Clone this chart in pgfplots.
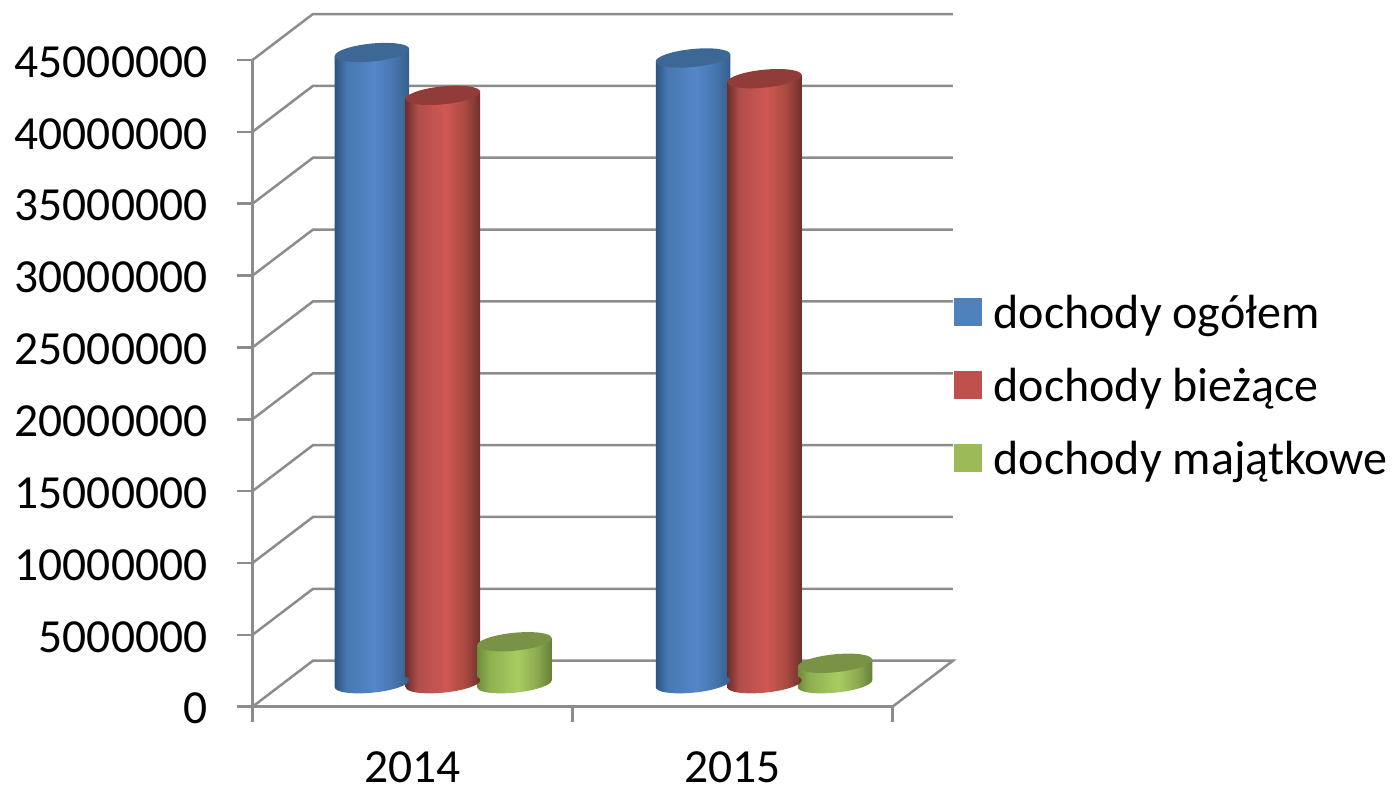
\documentclass[border=0pt]{standalone}
\usepackage{pgfplots}
\pgfplotsset{compat=1.18}
\usepackage{fontspec}
\setmainfont{Carlito}
\definecolor{gridg}{HTML}{8C8C8C}
\definecolor{legb}{HTML}{4F81BD}
\definecolor{legr}{HTML}{C0504D}
\definecolor{legg}{HTML}{9BBB59}
\definecolor{topb}{HTML}{3D6795}
\definecolor{topr}{HTML}{913C39}
\definecolor{topg}{HTML}{7A9245}
\definecolor{ba}{HTML}{2D5480}\definecolor{bb}{HTML}{4878B2}\definecolor{bc}{HTML}{5486CA}\definecolor{bd}{HTML}{4675AD}\definecolor{be}{HTML}{355E8C}
\definecolor{ra}{HTML}{6E2D2B}\definecolor{rb}{HTML}{B04E4B}\definecolor{rc}{HTML}{D05854}\definecolor{rd}{HTML}{A8483F}\definecolor{re}{HTML}{6D302C}
\definecolor{ga}{HTML}{6E8B3A}\definecolor{gb}{HTML}{8FB050}\definecolor{gc}{HTML}{A8CC62}\definecolor{gd}{HTML}{8CAB50}\definecolor{ge}{HTML}{64803A}
\pgfdeclarehorizontalshading{bluecyl}{100bp}{color(0bp)=(ba);color(25bp)=(ba);color(33bp)=(bb);color(52bp)=(bc);color(65bp)=(bd);color(75bp)=(be);color(100bp)=(be)}
\pgfdeclarehorizontalshading{redcyl}{100bp}{color(0bp)=(ra);color(25bp)=(ra);color(33bp)=(rb);color(52bp)=(rc);color(65bp)=(rd);color(75bp)=(re);color(100bp)=(re)}
\pgfdeclarehorizontalshading{greencyl}{100bp}{color(0bp)=(ga);color(25bp)=(ga);color(33bp)=(gb);color(52bp)=(gc);color(65bp)=(gd);color(75bp)=(ge);color(100bp)=(ge)}
\newcommand\ellpath{\pgfpathellipse{\pgfpointorigin}{\pgfqpoint{37.25pt}{3.5pt}}{\pgfqpoint{0pt}{9pt}}}
\pgfdeclareplotmark{bluebot}{\ellpath\pgfshadepath{bluecyl}{0}\pgfusepath{discard}}
\pgfdeclareplotmark{redbot}{\ellpath\pgfshadepath{redcyl}{0}\pgfusepath{discard}}
\pgfdeclareplotmark{greenbot}{\ellpath\pgfshadepath{greencyl}{0}\pgfusepath{discard}}
\pgfdeclareplotmark{bluetop}{\color{topb}\ellpath\pgfusepathqfill}
\pgfdeclareplotmark{redtop}{\color{topr}\ellpath\pgfusepathqfill}
\pgfdeclareplotmark{greentop}{\color{topg}\ellpath\pgfusepathqfill}
\newcommand\lstrut{\hspace*{10pt}}
% #1 category position, #2 value, #3 shift in pt, #4 colour name
\newcommand\cyl[4]{%
  \addplot[forget plot,only marks,mark=#4bot,xshift={(30.25+#3)*1pt},yshift=23pt] coordinates {(#1,0)};
  \addplot[forget plot,ybar,bar width=74.5pt,bar shift=#3pt,draw=none,shade,shading=#4cyl,
     xshift=30.25pt,yshift={(23-0.094*(320*#1+#3))*1pt},yslant=0.094] coordinates {(#1,#2)};
  \addplot[forget plot,only marks,mark=#4top,xshift={(30.25+#3)*1pt},yshift=23pt] coordinates {(#1,#2)};
}
\begin{document}
\begin{tikzpicture}
\useasboundingbox (-252.5pt,-79.3pt) rectangle (1142.5pt,706.7pt);
\begin{axis}[
  scale only axis,width=640pt,height=646.7pt,
  xmin=0,xmax=2,ymin=0,ymax=45000000,
  clip=false,
  axis x line*=bottom,axis y line*=left,
  axis line style={gridg,line width=2.5pt,-},
  unbounded coords=jump,
  tick align=outside,
  xtick={0.5,1.5},xticklabels={2014,2015},
  minor xtick={0,1,2},
  major tick length=15pt,minor tick length=15pt,
  major x tick style={draw=none},
  minor x tick style={gridg,line width=2.5pt},
  ytick={0,5000000,10000000,15000000,20000000,25000000,30000000,35000000,40000000,45000000},
  y tick style={gridg,line width=2.5pt},
  scaled y ticks=false,
  yticklabel style={font=\fontsize{47.5}{50}\selectfont,/pgf/number format/fixed,/pgf/number format/1000 sep={},/pgf/number format/precision=0,/pgf/number format/assume math mode=true,inner sep=1pt,xshift=-29pt,yshift=-2pt},
  xticklabel style={font=\fontsize{47.5}{50}\selectfont,/pgf/number format/assume math mode=true,inner sep=0pt,yshift=-29.3pt},
  legend style={anchor=west,draw=none,fill=none,inner sep=0pt,row sep=34pt,
    font=\fontsize{48}{58}\selectfont,legend cell align=left,
    at={(701.5pt,321.3pt)}},
]
\addlegendimage{legend image code/.code={\fill[legb] (0pt,-13pt) rectangle (27pt,14pt);}}
\addlegendentry{\lstrut dochody ogółem}
\addlegendimage{legend image code/.code={\fill[legr] (0pt,-13pt) rectangle (27pt,14pt);}}
\addlegendentry{\lstrut dochody bieżące}
\addlegendimage{legend image code/.code={\fill[legg] (0pt,-13pt) rectangle (27pt,14pt);}}
\addlegendentry{\lstrut dochody majątkowe}
\addplot[forget plot,gridg,line width=2.5pt] table {
0 0
0.189 3200000
2.189 3200000
2 0
nan nan
0 5000000
0.189 8200000
2.189 8200000
nan nan
0 10000000
0.189 13200000
2.189 13200000
nan nan
0 15000000
0.189 18200000
2.189 18200000
nan nan
0 20000000
0.189 23200000
2.189 23200000
nan nan
0 25000000
0.189 28200000
2.189 28200000
nan nan
0 30000000
0.189 33200000
2.189 33200000
nan nan
0 35000000
0.189 38200000
2.189 38200000
nan nan
0 40000000
0.189 43200000
2.189 43200000
nan nan
0 45000000
0.189 48200000
2.189 48200000
};
\cyl{0.5}{43920000}{-70.75}{blue}
\cyl{0.5}{40940000}{0.25}{red}
\cyl{0.5}{2920000}{71.75}{green}
\cyl{1.5}{43540000}{-69.75}{blue}
\cyl{1.5}{42100000}{1.75}{red}
\cyl{1.5}{1420000}{72.25}{green}
\end{axis}
\end{tikzpicture}
\end{document}
